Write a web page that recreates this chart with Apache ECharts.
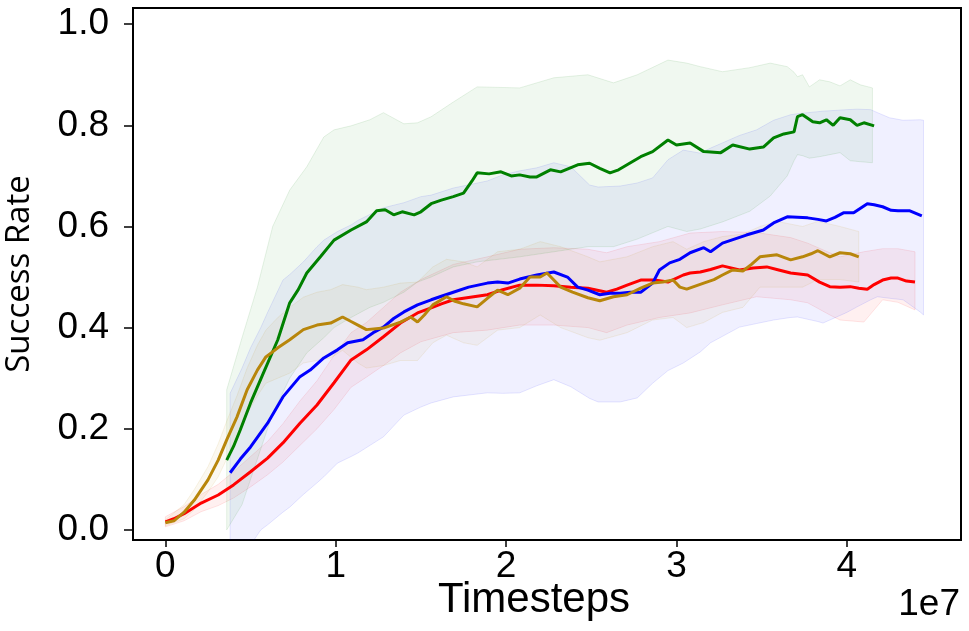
<!doctype html>
<html>
<head>
<meta charset="utf-8">
<title>Success Rate vs Timesteps</title>
<style>
  html, body { margin: 0; padding: 0; background: #fff; }
  #main { width: 969px; height: 631px; }
</style>
</head>
<body>
<div id="main"></div>
<script src="https://cdn.jsdelivr.net/npm/echarts@6/dist/echarts.min.js"></script>
<script>
// x in units of 1e7 timesteps, y = success rate
var xTicks = [0, 1, 2, 3, 4];
var yTicks = [0, 0.2, 0.4, 0.6, 0.8, 1.0];

var redLine = [[0.0,0.016],[0.05,0.022],[0.11,0.032],[0.21,0.053],[0.31,0.069],[0.40,0.089],[0.50,0.115],[0.60,0.142],[0.69,0.172],[0.79,0.211],[0.89,0.247],[0.99,0.291],[1.09,0.336],[1.18,0.356],[1.28,0.382],[1.38,0.409],[1.48,0.429],[1.56,0.439],[1.62,0.447],[1.69,0.455],[1.79,0.46],[1.89,0.465],[1.98,0.475],[2.08,0.484],[2.18,0.484],[2.28,0.483],[2.38,0.48],[2.48,0.478],[2.59,0.47],[2.65,0.476],[2.71,0.484],[2.79,0.494],[2.87,0.494],[2.95,0.49],[3.04,0.504],[3.08,0.508],[3.14,0.51],[3.20,0.515],[3.27,0.522],[3.37,0.514],[3.45,0.518],[3.53,0.52],[3.60,0.514],[3.67,0.508],[3.77,0.504],[3.84,0.49],[3.90,0.481],[3.96,0.48],[4.02,0.481],[4.07,0.478],[4.12,0.476],[4.16,0.485],[4.21,0.494],[4.26,0.498],[4.30,0.498],[4.35,0.492],[4.40,0.49]];

var blueLine = [[0.38,0.113],[0.44,0.14],[0.50,0.164],[0.60,0.211],[0.69,0.263],[0.79,0.303],[0.85,0.316],[0.93,0.34],[1.01,0.356],[1.07,0.37],[1.16,0.376],[1.22,0.39],[1.28,0.401],[1.34,0.418],[1.40,0.431],[1.48,0.445],[1.56,0.455],[1.62,0.462],[1.69,0.47],[1.78,0.48],[1.89,0.488],[1.95,0.49],[2.01,0.488],[2.08,0.496],[2.18,0.504],[2.28,0.51],[2.36,0.50],[2.42,0.48],[2.48,0.474],[2.55,0.465],[2.61,0.468],[2.67,0.468],[2.73,0.47],[2.79,0.47],[2.86,0.488],[2.90,0.514],[2.96,0.528],[3.02,0.535],[3.08,0.548],[3.16,0.558],[3.20,0.55],[3.27,0.567],[3.34,0.575],[3.41,0.583],[3.51,0.593],[3.57,0.607],[3.65,0.619],[3.71,0.618],[3.77,0.617],[3.83,0.614],[3.88,0.611],[3.93,0.618],[3.98,0.627],[4.04,0.627],[4.12,0.645],[4.16,0.643],[4.21,0.639],[4.26,0.632],[4.30,0.631],[4.37,0.631],[4.44,0.621]];

var greenLine = [[0.36,0.138],[0.40,0.165],[0.44,0.198],[0.50,0.251],[0.575,0.31],[0.66,0.376],[0.73,0.449],[0.78,0.475],[0.83,0.508],[0.91,0.54],[0.99,0.573],[1.09,0.593],[1.18,0.609],[1.24,0.631],[1.29,0.633],[1.34,0.623],[1.39,0.629],[1.46,0.623],[1.50,0.629],[1.56,0.645],[1.62,0.652],[1.69,0.659],[1.75,0.666],[1.80,0.69],[1.83,0.706],[1.90,0.704],[1.97,0.708],[2.03,0.70],[2.08,0.702],[2.14,0.698],[2.18,0.698],[2.26,0.712],[2.32,0.708],[2.42,0.722],[2.49,0.725],[2.55,0.715],[2.61,0.706],[2.66,0.712],[2.71,0.722],[2.79,0.738],[2.86,0.748],[2.95,0.771],[3.00,0.761],[3.08,0.765],[3.16,0.748],[3.26,0.746],[3.33,0.761],[3.43,0.753],[3.51,0.757],[3.57,0.775],[3.63,0.783],[3.69,0.787],[3.71,0.817],[3.74,0.821],[3.80,0.807],[3.84,0.805],[3.88,0.811],[3.92,0.80],[3.96,0.815],[4.02,0.811],[4.06,0.80],[4.10,0.805],[4.16,0.799]];

var goldLine = [[0.0,0.014],[0.05,0.018],[0.11,0.035],[0.17,0.059],[0.25,0.099],[0.31,0.138],[0.36,0.178],[0.42,0.223],[0.48,0.277],[0.54,0.316],[0.59,0.342],[0.66,0.36],[0.73,0.376],[0.81,0.396],[0.89,0.405],[0.97,0.409],[1.04,0.421],[1.09,0.412],[1.13,0.405],[1.18,0.396],[1.28,0.399],[1.38,0.411],[1.44,0.421],[1.48,0.411],[1.52,0.425],[1.57,0.445],[1.65,0.461],[1.70,0.452],[1.75,0.447],[1.83,0.441],[1.89,0.458],[1.95,0.474],[2.01,0.465],[2.08,0.478],[2.14,0.5],[2.20,0.5],[2.24,0.508],[2.28,0.494],[2.32,0.48],[2.39,0.47],[2.48,0.459],[2.55,0.453],[2.63,0.461],[2.71,0.465],[2.79,0.478],[2.86,0.488],[2.92,0.49],[2.98,0.494],[3.02,0.48],[3.06,0.476],[3.11,0.482],[3.16,0.488],[3.22,0.495],[3.27,0.504],[3.33,0.514],[3.39,0.512],[3.44,0.525],[3.49,0.54],[3.54,0.542],[3.59,0.544],[3.67,0.534],[3.74,0.54],[3.79,0.546],[3.83,0.552],[3.87,0.545],[3.90,0.54],[3.96,0.548],[4.02,0.546],[4.07,0.54]];

// shaded spread bands
var redBandX = [0.0,0.11,0.21,0.31,0.40,0.50,0.60,0.69,0.79,0.89,0.99,1.09,1.18,1.28,1.38,1.50,1.69,1.89,2.08,2.28,2.48,2.59,2.71,2.90,3.08,3.27,3.47,3.67,3.77,3.90,3.96,4.10,4.21,4.30,4.40];
var redBandHigh = [0.026,0.046,0.07,0.09,0.115,0.145,0.175,0.21,0.255,0.295,0.345,0.39,0.41,0.44,0.47,0.495,0.525,0.54,0.555,0.558,0.555,0.548,0.56,0.57,0.587,0.59,0.588,0.578,0.567,0.548,0.54,0.55,0.556,0.556,0.55];
var redBandLow = [0.006,0.018,0.036,0.048,0.063,0.085,0.109,0.134,0.167,0.2,0.238,0.282,0.302,0.325,0.35,0.372,0.39,0.395,0.405,0.405,0.40,0.39,0.405,0.42,0.429,0.445,0.461,0.455,0.449,0.425,0.415,0.411,0.455,0.45,0.435];

var blueBandX = [0.38,0.45,0.50,0.56,0.60,0.69,0.73,0.81,0.89,0.93,1.01,1.09,1.13,1.28,1.40,1.50,1.56,1.69,1.89,1.98,2.08,2.18,2.28,2.38,2.49,2.54,2.67,2.77,2.86,2.95,3.04,3.14,3.20,3.37,3.47,3.57,3.67,3.71,3.83,3.86,4.00,4.06,4.14,4.18,4.25,4.33,4.43,4.45];
var blueBandHigh = [0.27,0.32,0.36,0.40,0.43,0.494,0.505,0.53,0.56,0.573,0.59,0.603,0.612,0.637,0.647,0.659,0.662,0.676,0.69,0.702,0.71,0.716,0.726,0.718,0.682,0.678,0.68,0.686,0.696,0.732,0.751,0.745,0.755,0.78,0.791,0.81,0.821,0.823,0.827,0.828,0.831,0.832,0.831,0.825,0.815,0.81,0.811,0.81];
var blueBandLow = [-0.06,-0.05,-0.03,0.0,0.01,0.035,0.045,0.07,0.093,0.105,0.132,0.145,0.152,0.184,0.227,0.243,0.251,0.263,0.271,0.27,0.271,0.285,0.297,0.283,0.26,0.253,0.253,0.261,0.29,0.315,0.33,0.352,0.37,0.401,0.408,0.415,0.42,0.421,0.412,0.409,0.43,0.441,0.455,0.461,0.458,0.455,0.431,0.425];

var greenBandX = [0.36,0.45,0.54,0.63,0.73,0.83,0.93,0.99,1.09,1.20,1.28,1.40,1.48,1.56,1.69,1.83,2.08,2.28,2.48,2.63,2.77,2.95,3.06,3.14,3.27,3.43,3.55,3.65,3.69,3.71,3.74,3.78,3.84,3.90,3.96,4.02,4.08,4.15];
var greenBandHigh = [0.277,0.38,0.48,0.60,0.672,0.718,0.777,0.791,0.799,0.811,0.825,0.803,0.805,0.817,0.846,0.876,0.874,0.894,0.90,0.884,0.90,0.929,0.923,0.916,0.906,0.914,0.923,0.916,0.905,0.896,0.90,0.876,0.89,0.886,0.878,0.89,0.88,0.874];
var greenBandLow = [0.0,0.05,0.14,0.23,0.30,0.35,0.38,0.40,0.42,0.44,0.45,0.47,0.49,0.50,0.52,0.53,0.54,0.55,0.56,0.56,0.575,0.60,0.59,0.595,0.609,0.63,0.66,0.70,0.73,0.742,0.74,0.735,0.738,0.742,0.746,0.73,0.728,0.726];

var goldBandX = [0.0,0.11,0.17,0.25,0.31,0.36,0.42,0.48,0.54,0.59,0.66,0.73,0.81,0.89,0.97,1.04,1.13,1.18,1.28,1.38,1.48,1.57,1.65,1.75,1.83,1.95,2.08,2.20,2.32,2.48,2.55,2.71,2.86,2.98,3.06,3.16,3.27,3.39,3.49,3.59,3.74,3.83,3.96,4.07];
var goldBandHigh = [0.02,0.05,0.08,0.125,0.17,0.215,0.265,0.32,0.365,0.395,0.42,0.44,0.46,0.47,0.475,0.485,0.48,0.475,0.48,0.488,0.49,0.52,0.535,0.53,0.52,0.55,0.555,0.57,0.56,0.54,0.53,0.54,0.56,0.57,0.555,0.57,0.58,0.585,0.6,0.61,0.6,0.61,0.6,0.59];
var goldBandLow = [0.008,0.022,0.04,0.075,0.105,0.14,0.18,0.23,0.265,0.29,0.3,0.31,0.33,0.335,0.34,0.355,0.33,0.32,0.325,0.335,0.335,0.37,0.385,0.37,0.365,0.395,0.4,0.425,0.4,0.38,0.375,0.39,0.415,0.42,0.4,0.41,0.43,0.44,0.48,0.48,0.48,0.495,0.495,0.49];

var chart = echarts.init(document.getElementById('main'), null, { renderer: 'canvas' });

// one translucent polygon per band, built from its own data through api.coord
function band(xs, lo, hi, rgb) {
    var edge = 'rgba(' + rgb + ',0.1)';
    var fill = 'rgba(' + rgb + ',0.06)';
    return {
        type: 'custom', silent: true, clip: true, z: 1,
        data: xs.map(function (x, i) { return [x, lo[i], hi[i]]; }),
        encode: { x: 0, y: [1, 2] },
        renderItem: function (params, api) {
            if (params.dataIndexInside !== 0) {
                return;
            }
            var n = params.dataInsideLength;
            var up = [], dn = [];
            for (var j = 0; j < n; j++) {
                up.push(api.coord([api.value(0, j), api.value(2, j)]));
                dn.push(api.coord([api.value(0, j), api.value(1, j)]));
            }
            return {
                type: 'group',
                children: [{
                    type: 'polygon',
                    shape: { points: up.concat(dn.slice().reverse()) },
                    style: { fill: fill, stroke: edge, lineWidth: 1 }
                }]
            };
        }
    };
}

function curve(data, color) {
    return {
        type: 'line', silent: true, symbol: 'none', z: 5,
        lineStyle: { color: color, width: 3 },
        data: data
    };
}

var series = [
    band(redBandX, redBandLow, redBandHigh, '255,0,0'),
    band(blueBandX, blueBandLow, blueBandHigh, '0,0,255'),
    band(greenBandX, greenBandLow, greenBandHigh, '0,128,0'),
    band(goldBandX, goldBandLow, goldBandHigh, '184,134,11'),
    curve(redLine, '#ff0000'),
    curve(blueLine, '#0000ff'),
    curve(greenLine, '#008000'),
    curve(goldLine, '#b8860b')
];

var labelFont = { fontFamily: 'Liberation Sans', fontSize: 37, color: '#000' };

chart.setOption({
    animation: false,
    grid: {
        left: 133, right: 8, top: 8, bottom: 91,
        containLabel: false, outerBoundsMode: 'none',
        show: true, borderColor: '#000', borderWidth: 2
    },
    xAxis: {
        type: 'value', min: -0.19, max: 4.67,
        name: 'Timesteps',
        nameLocation: 'middle',
        nameGap: 39,
        nameMoveOverlap: false,
        nameTextStyle: {
            fontFamily: 'Liberation Sans', fontSize: 42, color: '#000',
            padding: [0, 26, 0, 0], verticalAlign: 'top'
        },
        axisLine: { onZero: false, lineStyle: { color: '#000', width: 2 } },
        axisTick: { customValues: xTicks, length: 7, lineStyle: { color: '#000', width: 1.5 } },
        axisLabel: Object.assign({ customValues: xTicks, margin: 8 }, labelFont),
        splitLine: { show: false }
    },
    yAxis: {
        type: 'value', min: -0.02, max: 1.032,
        name: 'Success Rate',
        nameLocation: 'middle',
        nameGap: 97,
        nameMoveOverlap: false,
        nameRotate: 90,
        nameTextStyle: { fontFamily: 'Open Sans', fontSize: 33, color: '#000' },
        axisLine: { onZero: false, lineStyle: { color: '#000', width: 2 } },
        axisTick: { customValues: yTicks, length: 9, lineStyle: { color: '#000', width: 1.5 } },
        axisLabel: Object.assign({
            customValues: yTicks, margin: 24,
            formatter: function (v) { return v.toFixed(1); }
        }, labelFont),
        splitLine: { show: false }
    },
    graphic: [{
        type: 'text', right: 9, top: 586,
        style: { text: '1e7', font: '37px "Liberation Sans"', fill: '#000' }
    }],
    series: series
});

window.onresize = chart.resize;
</script>
</body>
</html>
